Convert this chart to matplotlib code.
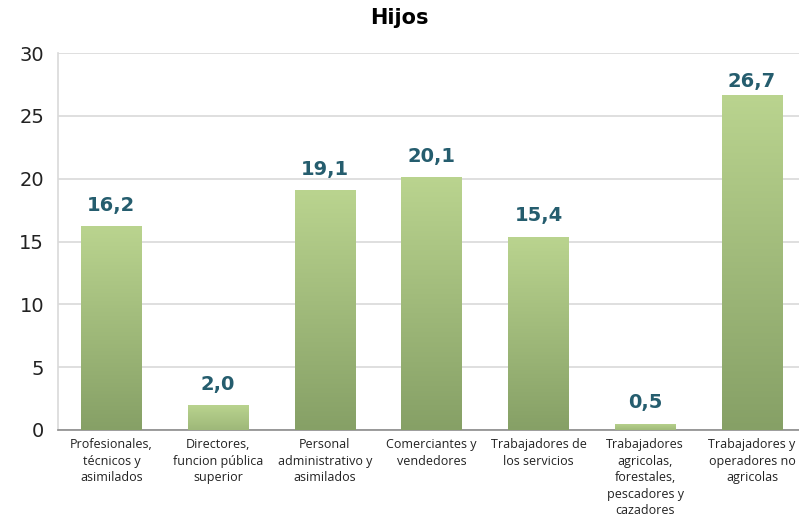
import matplotlib.pyplot as plt
import numpy as np
from matplotlib.colors import LinearSegmentedColormap

categories = ["Profesionales,\ntécnicos y\nasimilados",
              "Directores,\nfuncion pública\nsuperior",
              "Personal\nadministrativo y\nasimilados",
              "Comerciantes y\nvendedores",
              "Trabajadores de\nlos servicios",
              "Trabajadores\nagricolas,\nforestales,\npescadores y\ncazadores",
              "Trabajadores y\noperadores no\nagricolas"]
values = [16.2, 2.0, 19.1, 20.1, 15.4, 0.5, 26.7]
labels = ["16,2", "2,0", "19,1", "20,1", "15,4", "0,5", "26,7"]

fig = plt.figure(figsize=(7.99, 5.21), dpi=100)
ax = fig.add_axes([0.0726, 0.1747, 0.9274, 0.7233])

cmap = LinearSegmentedColormap.from_list("g", ["#86a066", "#bad48f"])
grad = np.linspace(0, 1, 256).reshape(-1, 1)
x = np.arange(len(values))
bars = ax.bar(x, values, width=0.57, color="none", zorder=3)
for b in bars:
    x0, y0 = b.get_x(), b.get_y()
    w, h = b.get_width(), b.get_height()
    # short bars only get the light end of the gradient
    lo = max(0.0, 1 - h / 15.0)
    im = ax.imshow(grad, cmap=cmap, origin="lower", aspect="auto",
                   extent=[x0, x0 + w, y0, y0 + h], zorder=3, vmin=-lo, vmax=1)
    im.set_clip_path(b)

for xi, v, lab in zip(x, values, labels):
    # label is kept inside the plot area, like excel does
    ax.text(xi, min(v + 0.9, 26.95), lab, ha="center", va="bottom", fontsize=14,
            fontweight="bold", color="#255d6e", family="DejaVu Sans", zorder=4)

ax.set_xlim(-0.5, 6.44)
ax.set_ylim(0, 30)
ax.set_yticks([0, 5, 10, 15, 20, 25, 30])
ax.yaxis.grid(True, color="#d9d9d9", linewidth=1.2, zorder=0)
ax.set_axisbelow(True)
ax.set_xticks(x)
ax.set_xticklabels(categories, fontsize=9, color="#222222", family="Open Sans",
                   linespacing=1.35)
ax.tick_params(axis="x", length=0, pad=6)
ax.tick_params(axis="y", length=0, pad=10, labelsize=14, labelcolor="#222222")
for sp in ["top", "right"]:
    ax.spines[sp].set_visible(False)
ax.spines["left"].set_color("#d9d9d9")
ax.spines["left"].set_linewidth(1.2)
ax.spines["bottom"].set_color("#8c8c8c")
ax.spines["bottom"].set_linewidth(1.2)

fig.text(0.5, 0.965, "Hijos", ha="center", va="center", fontsize=15,
         fontweight="bold")

fig.savefig("out.png", dpi=100)
